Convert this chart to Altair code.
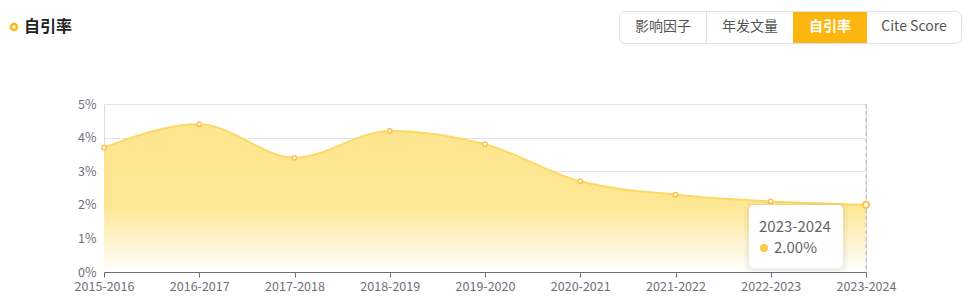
import altair as alt
import pandas as pd

years = ["2015-2016", "2016-2017", "2017-2018", "2018-2019", "2019-2020",
         "2020-2021", "2021-2022", "2022-2023", "2023-2024"]
rates = [3.7, 4.4, 3.4, 4.2, 3.8, 2.7, 2.3, 2.1, 2.0]
buttons = ["影响因子", "年发文量", "自引率", "Cite Score"]
title_text = "自引率"
y_ticks = [0, 1, 2, 3, 4, 5]

df = pd.DataFrame({"year": years, "rate": rates})
last = years[-1]

W, H = 762, 168
FONT = "Noto Sans CJK SC"
AXC = "#6e7079"

x = alt.X("year:O", sort=years,
          scale=alt.Scale(type="point", padding=0),
          axis=alt.Axis(title=None, labelAngle=0, domainColor=AXC, tickColor=AXC,
                        labelColor=AXC, labelFontSize=12.5, labelFont=FONT,
                        labelPadding=3, tickSize=5, grid=False))
y = alt.Y("rate:Q", scale=alt.Scale(domain=[0, 5]),
          axis=alt.Axis(title=None, values=y_ticks, labelExpr="datum.value + '%'",
                        domain=False, ticks=False, gridColor="#e0e6f1",
                        labelColor=AXC, labelFontSize=12.5, labelFont=FONT,
                        labelPadding=8))

base = alt.Chart(df)

area = base.mark_area(
    interpolate="monotone", opacity=0.92,
    fill=alt.Gradient(gradient="linear", x1=0, y1=0, x2=0, y2=1,
                      stops=[alt.GradientStop(color="#fee487", offset=0),
                             alt.GradientStop(color="#fee589", offset=0.55),
                             alt.GradientStop(color="#ffffff", offset=1)]),
).encode(x=x, y=y)

line = base.mark_line(interpolate="monotone", color="#fdd865", strokeWidth=2).encode(x=x, y=y)

pts = base.mark_point(filled=False, shape="circle", size=18, stroke="#fcc24e",
                      strokeWidth=1.5, fill="#ffffff", fillOpacity=1, opacity=1).encode(x=x, y=y)

last_df = df[df["year"] == last]
rule = alt.Chart(last_df).mark_rule(color="#b7b8c9", strokeDash=[4, 3], strokeWidth=1).encode(
    x=alt.X("year:O", sort=years, scale=alt.Scale(type="point", padding=0)),
    y=alt.value(0), y2=alt.value(H))

last_pt = alt.Chart(last_df).mark_point(filled=False, shape="circle", size=40, stroke="#fcc24e",
                                        strokeWidth=2, fill="#ffffff", fillOpacity=1).encode(x=x, y=y)

# tooltip box
tip_shadow2 = alt.Chart(last_df).mark_rect(fill="#000000", opacity=0.025, cornerRadius=8).encode(
    x=alt.value(640), x2=alt.value(744), y=alt.value(98), y2=alt.value(170))
tip_shadow = alt.Chart(last_df).mark_rect(fill="#000000", opacity=0.035, cornerRadius=6).encode(
    x=alt.value(643), x2=alt.value(741), y=alt.value(100), y2=alt.value(167))
tip_box = alt.Chart(last_df).mark_rect(fill="#ffffff", cornerRadius=4).encode(
    x=alt.value(645), x2=alt.value(739), y=alt.value(101), y2=alt.value(164))
tip_title = alt.Chart(last_df).mark_text(align="left", baseline="middle", font=FONT,
                                         fontSize=15, color="#666666").encode(
    x=alt.value(655), y=alt.value(123), text="year:N")
tip_dot = alt.Chart(last_df).mark_point(filled=True, shape="circle", size=70,
                                        color="#fdc94f", opacity=1).encode(
    x=alt.value(660), y=alt.value(144))
tip_val = alt.Chart(last_df).transform_calculate(
    lab="format(datum.rate, '.2f') + '%'").mark_text(
    align="left", baseline="middle", font=FONT, fontSize=15, color="#666666").encode(
    x=alt.value(670), y=alt.value(144), text="lab:N")

# header
hdr = pd.DataFrame({"t": [title_text]})
icon = alt.Chart(hdr).mark_point(filled=False, shape="circle", size=36, stroke="#fdb813",
                                 strokeWidth=2.5, opacity=1).encode(
    x=alt.value(-90), y=alt.value(-77))
title = alt.Chart(hdr).mark_text(align="left", baseline="middle", font=FONT, fontSize=16,
                                 fontWeight="bold", color="#222222").encode(
    x=alt.value(-80), y=alt.value(-77), text="t:N")

btn_outer = alt.Chart(hdr).mark_rect(fill="#ffffff", stroke="#dcdfe6", strokeWidth=1,
                                     cornerRadius=6).encode(
    x=alt.value(515.5), x2=alt.value(857.5), y=alt.value(-92.5), y2=alt.value(-60.5))
btn_active = alt.Chart(hdr).mark_rect(fill="#fdb60f").encode(
    x=alt.value(689), x2=alt.value(763), y=alt.value(-92), y2=alt.value(-61))
btn_div = alt.Chart(hdr).mark_rule(color="#dcdfe6", strokeWidth=1).encode(
    x=alt.value(602.5), y=alt.value(-92), y2=alt.value(-61))

btn_centers = [559, 646, 726, 810]
btn_layers = []
for lab, cx in zip(buttons, btn_centers):
    active = lab == title_text
    btn_layers.append(
        alt.Chart(pd.DataFrame({"t": [lab]})).mark_text(
            align="center", baseline="middle", font=FONT, fontSize=14,
            fontWeight="bold" if active else "normal",
            color="#ffffff" if active else "#555555").encode(
            x=alt.value(cx), y=alt.value(-77), text="t:N"))

chart = alt.layer(
    area, line, rule, pts, last_pt,
    tip_shadow2, tip_shadow, tip_box, tip_title, tip_dot, tip_val,
    icon, title, btn_outer, btn_active, btn_div, *btn_layers
).properties(
    width=W, height=H,
    autosize=alt.AutoSizeParams(type="none"),
    padding={"left": 104, "top": 104, "right": 105, "bottom": 28},
).configure_view(stroke=None).configure(background="#ffffff")

chart.save("out.html", embed_options={"renderer": "svg", "actions": False})
